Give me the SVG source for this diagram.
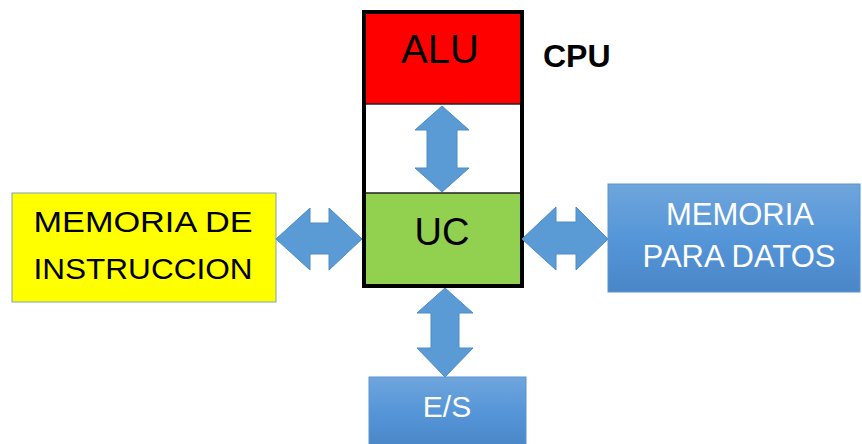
<svg xmlns="http://www.w3.org/2000/svg" width="862" height="444" viewBox="0 0 862 444">
<defs>
<linearGradient id="blue" x1="0" y1="0" x2="0" y2="1">
<stop offset="0" stop-color="#6fa5dc"/>
<stop offset="0.5" stop-color="#5596d8"/>
<stop offset="1" stop-color="#4a86c8"/>
</linearGradient>
</defs>
<style>
.t{font-family:"Liberation Sans",Arial,sans-serif;text-anchor:middle}
.dark{fill:#000}
.light{fill:#fff}
.arrow{fill:#5b9bd5;stroke:#4f8cc6;stroke-width:1}
.bluebox{fill:url(#blue);stroke:#5a93cf;stroke-width:1}
</style>
<rect width="862" height="444" fill="#fff"/>
<g id="cpu">
<rect x="364" y="12" width="158" height="92" fill="#ff0000"/>
<rect x="364" y="104" width="158" height="89" fill="#ffffff"/>
<rect x="364" y="193" width="158" height="93" fill="#92d050"/>
<line x1="364" y1="104" x2="522" y2="104" stroke="#222" stroke-width="1.5"/>
<line x1="364" y1="193" x2="522" y2="193" stroke="#222" stroke-width="1.5"/>
<rect x="364" y="12" width="158" height="274" fill="none" stroke="#000" stroke-width="4"/>
<text class="t dark" x="543" y="67" font-size="32" font-weight="bold" style="text-anchor:start">CPU</text>
</g>
<g id="alu">
<text class="t dark" x="440" y="63" font-size="40">ALU</text>
</g>
<g id="uc">
<text class="t dark" x="442" y="245" font-size="38">UC</text>
</g>
<g id="mem-instr">
<rect x="12" y="193" width="264" height="109" fill="#ffff00" stroke="#7f9fbf" stroke-width="1"/>
<text class="t dark" x="143" y="232" font-size="30" textLength="219" lengthAdjust="spacingAndGlyphs">MEMORIA DE</text>
<text class="t dark" x="143" y="279" font-size="30" textLength="219" lengthAdjust="spacingAndGlyphs">INSTRUCCION</text>
</g>
<g id="mem-datos">
<rect class="bluebox" x="608" y="184" width="252" height="108"/>
<text class="t light" x="740" y="225" font-size="31">MEMORIA</text>
<text class="t light" x="739" y="267" font-size="31">PARA DATOS</text>
</g>
<g id="es">
<rect class="bluebox" x="369" y="377" width="157" height="70"/>
<text class="t light" x="447" y="417" font-size="30">E/S</text>
</g>
<g id="connectors">
<polygon class="arrow" points="442,106 469,130 457,130 457,168 469,168 442,192 415,168 427,168 427,130 415,130"/>
<polygon class="arrow" points="276,239 310,208 310,223 329,223 329,208 362,239 329,270 329,254 310,254 310,270"/>
<polygon class="arrow" points="522,239 556,207 556,222 576,222 576,207 608,239 576,270 576,254 556,254 556,270"/>
<polygon class="arrow" points="445,288 473,313 459,313 459,348 473,348 445,377 417,348 431,348 431,313 417,313"/>
</g>
</svg>
